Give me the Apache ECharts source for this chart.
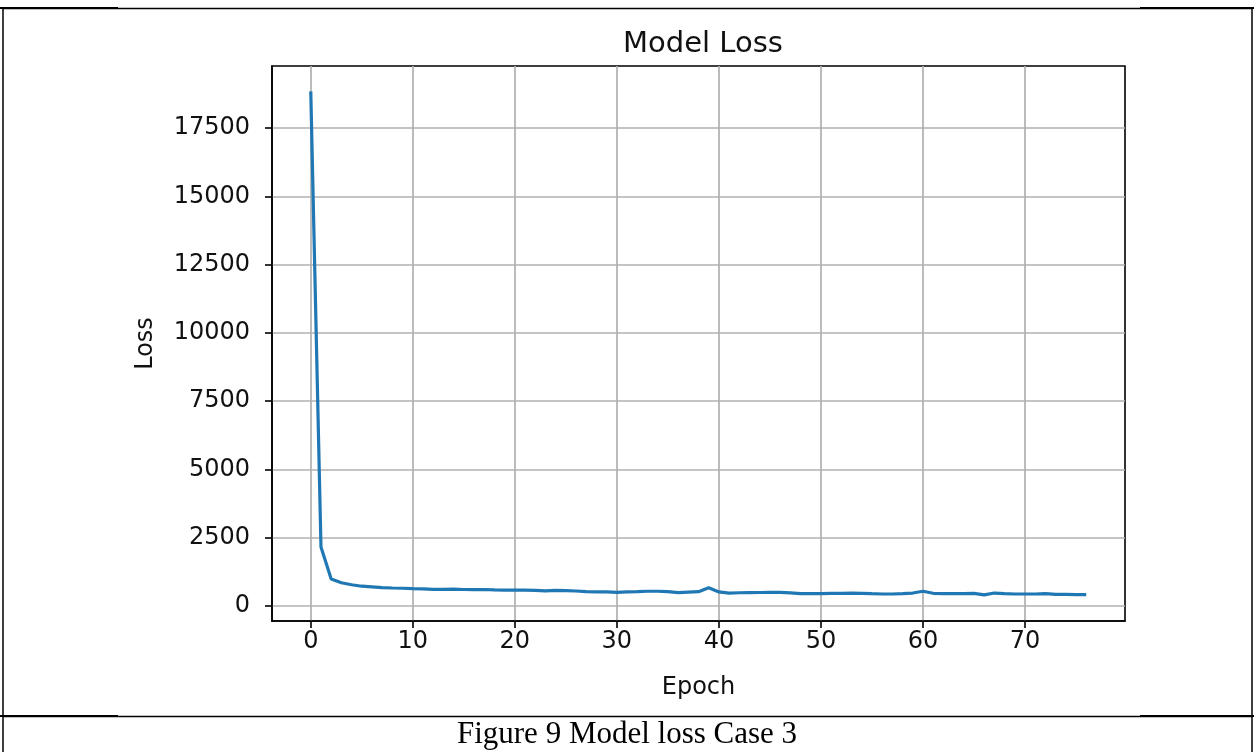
<!DOCTYPE html>
<html><head><meta charset="utf-8">
<script src="https://cdn.jsdelivr.net/npm/echarts@6/dist/echarts.min.js"></script>
<style>html,body{margin:0;padding:0;background:#fff}#c{width:1254px;height:752px}</style>
</head><body><div id="c"></div>
<script>
const titleText = 'Model Loss';
const xName = 'Epoch';
const yName = 'Loss';
const captionText = 'Figure 9 Model loss Case 3';
const epochs = [0,1,2,3,4,5,6,7,8,9,10,11,12,13,14,15,16,17,18,19,20,21,22,23,24,25,26,27,28,29,30,31,32,33,34,35,36,37,38,39,40,41,42,43,44,45,46,47,48,49,50,51,52,53,54,55,56,57,58,59,60,61,62,63,64,65,66,67,68,69,70,71,72,73,74,75,76];
const loss = [18850,2150,980,840,770,715,690,665,650,640,625,615,600,600,605,595,590,595,580,575,570,575,565,545,565,555,540,520,505,505,490,505,515,530,530,515,480,500,515,660,505,460,475,480,485,490,490,470,445,445,440,455,455,460,455,440,430,430,440,465,530,455,440,440,440,455,395,465,440,430,430,430,440,415,415,405,405];
const xTicks = [0,10,20,30,40,50,60,70];
const yTicks = [0,2500,5000,7500,10000,12500,15000,17500];

const chart = echarts.init(document.getElementById('c'), null, {renderer:'canvas'});
const txt = '#111';
const font = 'DejaVu Sans';
chart.setOption({
  animation: false,
  backgroundColor: '#fff',
  title: {
    text: titleText, left: 698, top: 25, textAlign: 'center',
    textStyle: {fontFamily: font, fontSize: 29, fontWeight: 'normal', color: txt}
  },
  grid: {left: 272, right: 129, top: 66, bottom: 131, show: true, borderColor: '#000', borderWidth: 1.6, backgroundColor: '#fff', containLabel: false, outerBoundsMode: 'none'},
  xAxis: {
    type: 'value', min: -3.8, max: 79.8,
    name: xName, nameLocation: 'middle', nameGap: 55,
    nameTextStyle: {fontFamily: font, fontSize: 24, color: txt},
    axisLine: {show: true, onZero: false, lineStyle: {color: '#000', width: 1.6}},
    axisTick: {show: true, inside: false, length: 7, customValues: xTicks, lineStyle: {color: '#000', width: 1.6}},
    axisLabel: {show: true, margin: 9, customValues: xTicks, fontFamily: font, fontSize: 24, color: txt, formatter: v => String(v)},
    splitLine: {show: true, lineStyle: {color: '#b0b0b0', width: 1.7}}
  },
  yAxis: {
    type: 'value', min: -560, max: 19780,
    name: yName, nameLocation: 'middle', nameGap: 114, nameRotate: 90,
    nameTextStyle: {fontFamily: font, fontSize: 24, color: txt},
    axisLine: {show: true, onZero: false, lineStyle: {color: '#000', width: 1.6}},
    axisTick: {show: true, inside: false, length: 7, customValues: yTicks, lineStyle: {color: '#000', width: 1.6}},
    axisLabel: {show: true, margin: 22, customValues: yTicks, fontFamily: font, fontSize: 24, color: txt, formatter: v => String(v)},
    splitLine: {show: true, lineStyle: {color: '#b0b0b0', width: 1.7}}
  },
  series: [{
    type: 'line', data: epochs.map((e, i) => [e, loss[i]]),
    showSymbol: false, symbol: 'none',
    lineStyle: {color: '#1f77b4', width: 3.2}, itemStyle: {color: '#1f77b4'}
  }],
  graphic: [
    {type: 'line', shape: {x1: 3, y1: 8.5, x2: 1252, y2: 8.5}, style: {stroke: '#000', lineWidth: 1.3}, silent: true},
    {type: 'line', shape: {x1: 0, y1: 8, x2: 118, y2: 8}, style: {stroke: '#000', lineWidth: 2}, silent: true},
    {type: 'line', shape: {x1: 1140, y1: 8, x2: 1254, y2: 8}, style: {stroke: '#000', lineWidth: 2}, silent: true},
    {type: 'line', shape: {x1: 3, y1: 716.5, x2: 1252, y2: 716.5}, style: {stroke: '#000', lineWidth: 1.3}, silent: true},
    {type: 'line', shape: {x1: 0, y1: 716, x2: 118, y2: 716}, style: {stroke: '#000', lineWidth: 2}, silent: true},
    {type: 'line', shape: {x1: 1140, y1: 716, x2: 1254, y2: 716}, style: {stroke: '#000', lineWidth: 2}, silent: true},
    {type: 'line', shape: {x1: 3, y1: 8, x2: 3, y2: 752}, style: {stroke: '#000', lineWidth: 1.5}, silent: true},
    {type: 'line', shape: {x1: 1252, y1: 8, x2: 1252, y2: 752}, style: {stroke: '#000', lineWidth: 1.5}, silent: true},
    {type: 'text', left: 'center', top: 719, style: {text: captionText, fontFamily: 'Liberation Serif', fontSize: 31, fill: '#000'}, silent: true}
  ]
});
</script>
</body></html>
